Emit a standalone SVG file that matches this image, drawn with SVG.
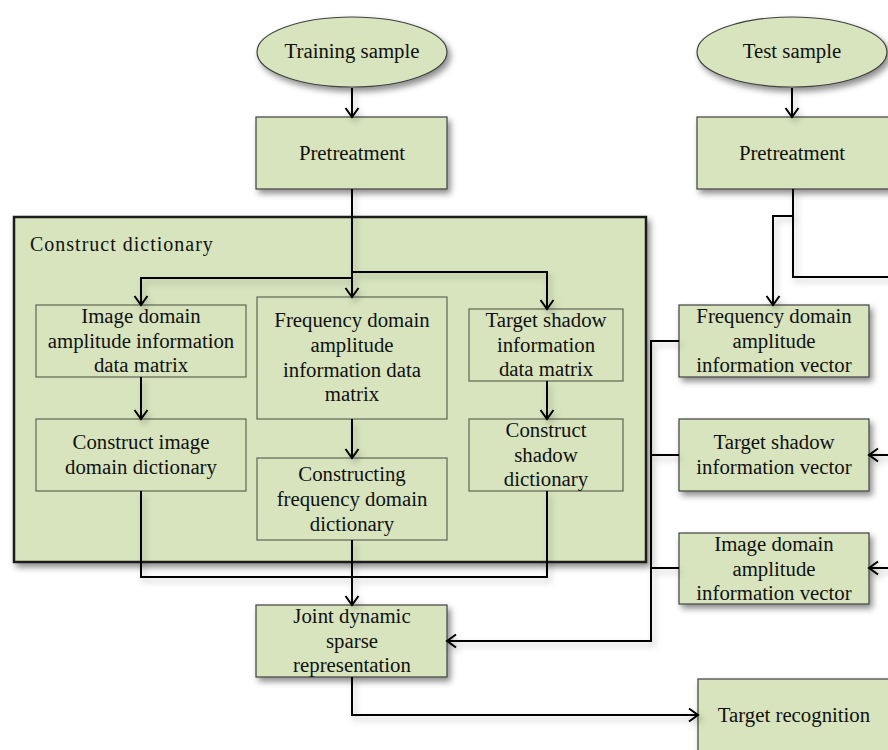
<svg xmlns="http://www.w3.org/2000/svg" width="888" height="750" viewBox="0 0 888 750">
<style>
  .node { fill: #D7E4BD; stroke: #404040; stroke-width: 1.2; }
  .inner { fill: #D7E4BD; stroke: #5f6656; stroke-width: 1.2; }
  .outer { fill: #D7E4BD; stroke: #1a1a1a; stroke-width: 2.5; }
  .t { font-family: "Liberation Serif", "Times New Roman", serif; font-size: 20.8px; fill: #111; text-anchor: middle; }
  .lbl { font-family: "Liberation Serif", "Times New Roman", serif; font-size: 20px; fill: #111; letter-spacing: 1px; }
  .c { fill: none; stroke: #000; stroke-width: 2; }
  .ca { fill: none; stroke: #000; stroke-width: 2; marker-end: url(#arr); }
</style>
<defs>
  <marker id="arr" markerUnits="userSpaceOnUse" markerWidth="16" markerHeight="16" refX="10" refY="8" orient="auto">
    <path d="M1,1.5 L10,8 L1,14.5" fill="none" stroke="#000" stroke-width="2"/>
  </marker>
  <filter id="sh" x="-20%" y="-20%" width="140%" height="150%">
    <feDropShadow dx="3" dy="4" stdDeviation="3" flood-color="#000" flood-opacity="0.45"/>
  </filter>
  <filter id="lsh" x="-10%" y="-10%" width="120%" height="120%">
    <feDropShadow dx="3" dy="4" stdDeviation="3" flood-color="#000" flood-opacity="0.25"/>
  </filter>
</defs>

<g id="construct-dictionary">
  <rect class="outer" x="14" y="217" width="632" height="345" filter="url(#sh)"/>
  <text class="lbl" x="30" y="251">Construct dictionary</text>
</g>

<g id="training-sample">
  <ellipse class="node" cx="352" cy="52" rx="95" ry="35" filter="url(#sh)"/>
  <text class="t" x="352" y="58">Training sample</text>
</g>
<g id="pretreatment-train">
  <rect class="node" x="256" y="117" width="191" height="72" filter="url(#sh)"/>
  <text class="t" x="352" y="160">Pretreatment</text>
</g>
<g id="test-sample">
  <ellipse class="node" cx="792" cy="52" rx="95" ry="35" filter="url(#sh)"/>
  <text class="t" x="792" y="58">Test sample</text>
</g>
<g id="pretreatment-test">
  <rect class="node" x="697" y="117" width="193" height="72" filter="url(#sh)"/>
  <text class="t" x="792" y="160">Pretreatment</text>
</g>

<g id="image-matrix">
  <rect class="inner" x="36" y="305" width="210" height="72"/>
  <text class="t" x="141" y="323">Image domain</text>
  <text class="t" x="141" y="348">amplitude information</text>
  <text class="t" x="141" y="372">data matrix</text>
</g>
<g id="image-dictionary">
  <rect class="inner" x="36" y="419" width="210" height="72"/>
  <text class="t" x="141" y="449">Construct image</text>
  <text class="t" x="141" y="474">domain dictionary</text>
</g>
<g id="freq-matrix">
  <rect class="inner" x="257" y="297" width="190" height="122"/>
  <text class="t" x="352" y="327">Frequency domain</text>
  <text class="t" x="352" y="352">amplitude</text>
  <text class="t" x="352" y="377">information data</text>
  <text class="t" x="352" y="401">matrix</text>
</g>
<g id="freq-dictionary">
  <rect class="inner" x="257" y="458" width="190" height="82"/>
  <text class="t" x="352" y="481">Constructing</text>
  <text class="t" x="352" y="506">frequency domain</text>
  <text class="t" x="352" y="531">dictionary</text>
</g>
<g id="shadow-matrix">
  <rect class="inner" x="469" y="309" width="154" height="72"/>
  <text class="t" x="546" y="327">Target shadow</text>
  <text class="t" x="546" y="352">information</text>
  <text class="t" x="546" y="376">data matrix</text>
</g>
<g id="shadow-dictionary">
  <rect class="inner" x="469" y="419" width="154" height="72"/>
  <text class="t" x="546" y="437">Construct</text>
  <text class="t" x="546" y="462">shadow</text>
  <text class="t" x="546" y="486">dictionary</text>
</g>

<g id="freq-vector">
  <rect class="node" x="679" y="305" width="190" height="72" filter="url(#sh)"/>
  <text class="t" x="774" y="323">Frequency domain</text>
  <text class="t" x="774" y="348">amplitude</text>
  <text class="t" x="774" y="372">information vector</text>
</g>
<g id="shadow-vector">
  <rect class="node" x="679" y="419" width="190" height="72" filter="url(#sh)"/>
  <text class="t" x="774" y="449">Target shadow</text>
  <text class="t" x="774" y="474">information vector</text>
</g>
<g id="image-vector">
  <rect class="node" x="679" y="533" width="190" height="71" filter="url(#sh)"/>
  <text class="t" x="774" y="551">Image domain</text>
  <text class="t" x="774" y="576">amplitude</text>
  <text class="t" x="774" y="600">information vector</text>
</g>
<g id="joint-sparse">
  <rect class="node" x="256" y="605" width="191" height="72" filter="url(#sh)"/>
  <text class="t" x="352" y="623">Joint dynamic</text>
  <text class="t" x="352" y="648">sparse</text>
  <text class="t" x="352" y="672">representation</text>
</g>
<g id="target-recognition">
  <rect class="node" x="698" y="679" width="192" height="75" filter="url(#sh)"/>
  <text class="t" x="794" y="722">Target recognition</text>
</g>

<g id="connectors" filter="url(#lsh)">
  <path class="ca" d="M352,88 V117"/>
  <path class="ca" d="M792,88 V117"/>
  <path class="ca" d="M352,189 V297"/>
  <path class="ca" d="M352,278 H141 V305"/>
  <path class="ca" d="M352,272 H547 V309"/>
  <path class="ca" d="M141,377 V419"/>
  <path class="ca" d="M352,419 V458"/>
  <path class="ca" d="M547,381 V419"/>
  <path class="c" d="M141,491 V577 H547 V491"/>
  <path class="ca" d="M352,540 V605"/>
  <path class="ca" d="M352,677 V715 H698"/>
  <path class="c" d="M793,189 V277 H890"/>
  <path class="ca" d="M793,216 H773 V305"/>
  <path class="ca" d="M679,341 H651 V641 H447"/>
  <path class="c" d="M679,455 H651"/>
  <path class="c" d="M679,568 H651"/>
  <path class="ca" d="M890,455 H869"/>
  <path class="ca" d="M890,568 H869"/>
</g>
</svg>
